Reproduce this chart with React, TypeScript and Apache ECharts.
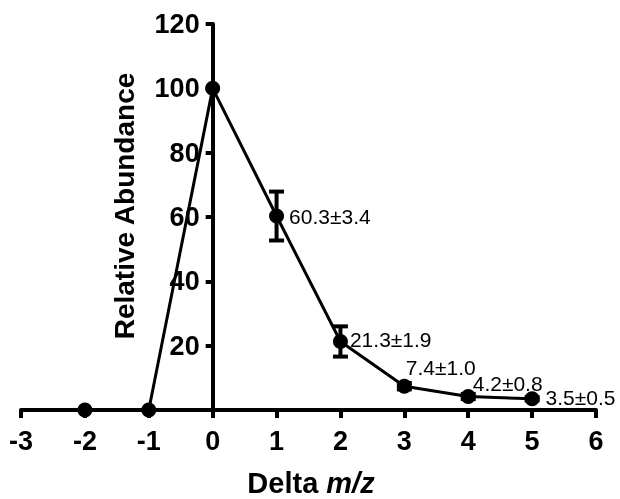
import React, { useEffect, useRef } from "react";
import * as echarts from "echarts";

const xValues = [-2, -1, 0, 1, 2, 3, 4, 5];
const abundance = [0, 0, 100, 60.3, 21.3, 7.4, 4.2, 3.5];
const errorBars = [0, 0, 0, 7.6, 4.7, 1.0, 0.8, 0.5];
const pointLabels = ["", "", "", "60.3±3.4", "21.3±1.9", "7.4±1.0", "4.2±0.8", "3.5±0.5"];
const labelOffsets: [number, number][] = [[0, 0], [0, 0], [0, 0], [0, 0], [-3, -2], [-11, -19], [-8, -13], [1, -1]];
const xTicks = [-3, -2, -1, 0, 1, 2, 3, 4, 5, 6];
const yTicks = [0, 20, 40, 60, 80, 100, 120];

const FONT = "'Liberation Sans', Arial, Helvetica, sans-serif";
const GRID_LEFT = 21;
const GRID_RIGHT = 24;
const WIDTH = 620;

export default function App() {
  const ref = useRef<HTMLDivElement>(null);
  useEffect(() => {
    if (!ref.current) return;
    const chart = echarts.init(ref.current, null, { renderer: "svg" });
    const xMin = xTicks[0];
    const xMax = xTicks[xTicks.length - 1];
    const plotW = WIDTH - GRID_LEFT - GRID_RIGHT;
    const yAxisOffset = -((0 - xMin) / (xMax - xMin)) * plotW;
    const lineData = xValues.map((x, i) => ({
      value: [x, abundance[i]],
      label: {
        show: pointLabels[i] !== "",
        formatter: pointLabels[i],
        position: "right",
        distance: 5,
        offset: labelOffsets[i],
      },
    }));
    const errData = xValues
      .map((x, i) => [x, abundance[i] - errorBars[i], abundance[i] + errorBars[i]])
      .filter((_, i) => errorBars[i] > 0);
    chart.setOption({
      animation: false,
      grid: { left: GRID_LEFT, right: GRID_RIGHT, top: 24, bottom: 89, containLabel: false, outerBoundsMode: "none" },
      xAxis: {
        type: "value",
        min: xMin,
        max: xMax,
        interval: 1,
        axisLine: { onZero: false, lineStyle: { color: "#000", width: 4 } },
        axisTick: { show: true, length: 8, lineStyle: { color: "#000", width: 4 } },
        axisLabel: { color: "#000", fontSize: 27, fontWeight: "bold", fontFamily: FONT, margin: 17 },
        splitLine: { show: false },
      },
      yAxis: {
        type: "value",
        position: "left",
        offset: yAxisOffset,
        min: yTicks[0],
        max: yTicks[yTicks.length - 1],
        interval: 20,
        axisLine: { show: true, onZero: false, lineStyle: { color: "#000", width: 4 } },
        axisTick: { show: true, length: 7, lineStyle: { color: "#000", width: 4 } },
        axisLabel: {
          color: "#000",
          fontSize: 27,
          fontWeight: "bold",
          fontFamily: FONT,
          margin: 13,
          formatter: (v: number) => (v === 0 ? "" : String(v)),
        },
        splitLine: { show: false },
      },
      graphic: [
        {
          type: "text",
          x: 124,
          y: 206,
          rotation: Math.PI / 2,
          style: {
            text: "Relative Abundance",
            fontSize: 28,
            fontWeight: "bold",
            fontFamily: FONT,
            fill: "#000",
            align: "center",
            verticalAlign: "middle",
          },
        },
        {
          type: "text",
          x: 311,
          y: 483,
          style: {
            text: "Delta {i|m/z}",
            fontSize: 29,
            lineHeight: 30,
            fontWeight: "bold",
            fontFamily: FONT,
            fill: "#000",
            align: "center",
            verticalAlign: "middle",
            rich: {
              i: { fontSize: 29, lineHeight: 30, fontWeight: "bold", fontStyle: "italic", fontFamily: FONT, fill: "#000" },
            },
          },
        },
      ],
      series: [
        {
          type: "custom",
          z: 3,
          renderItem: (params: any, api: any) => {
            const x = api.value(0);
            const lo = api.coord([x, api.value(1)]);
            const hi = api.coord([x, api.value(2)]);
            const w = 7.5;
            const st = { stroke: "#000", lineWidth: 4 };
            return {
              type: "group",
              children: [
                { type: "line", shape: { x1: hi[0], y1: hi[1], x2: lo[0], y2: lo[1] }, style: st },
                { type: "line", shape: { x1: hi[0] - w, y1: hi[1], x2: hi[0] + w, y2: hi[1] }, style: st },
                { type: "line", shape: { x1: lo[0] - w, y1: lo[1], x2: lo[0] + w, y2: lo[1] }, style: st },
              ],
            };
          },
          data: errData,
        },
        {
          type: "line",
          z: 4,
          data: lineData,
          symbol: "circle",
          symbolSize: 15,
          itemStyle: { color: "#000" },
          lineStyle: { color: "#000", width: 3 },
          label: { color: "#000", fontSize: 21, fontFamily: FONT },
        },
      ],
    });
    return () => chart.dispose();
  }, []);
  return <div ref={ref} style={{ position: "fixed", left: 0, top: 0, width: 620, height: 499 }} />;
}
